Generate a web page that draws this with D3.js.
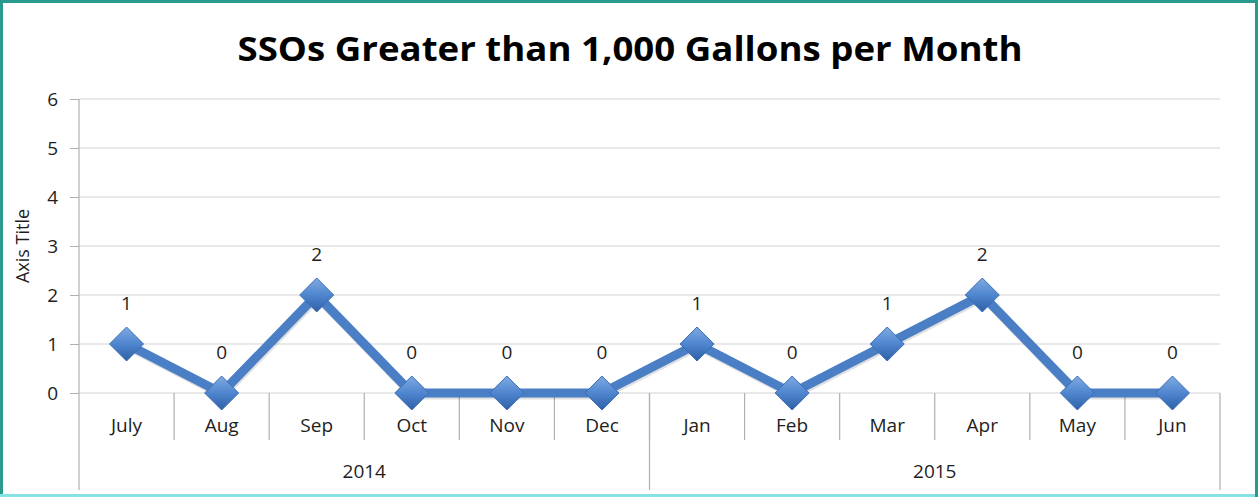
<!DOCTYPE html>
<html>
<head>
<meta charset="utf-8">
<script src="https://cdn.jsdelivr.net/npm/d3@7"></script>
<style>
  html, body { margin: 0; padding: 0; background: #fff; }
  svg text { font-family: "Open Sans", "Noto Sans", sans-serif; fill: #1e1e1e; }
</style>
</head>
<body>
<div id="chart"></div>
<script>
// --- data ---
const months = ["July", "Aug", "Sep", "Oct", "Nov", "Dec", "Jan", "Feb", "Mar", "Apr", "May", "Jun"];
const years = ["2014", "2015"];
const monthsPerYear = [6, 6];
const ssoCounts = [1, 0, 2, 0, 0, 0, 1, 0, 1, 2, 0, 0];
const yTicks = [0, 1, 2, 3, 4, 5, 6];

const width = 1258, height = 497;
const plot = { left: 79, right: 1220, top: 99, bottom: 393 };

const svg = d3.select("#chart").append("svg")
  .attr("width", width)
  .attr("height", height);

// gradient for the markers
const defs = svg.append("defs");
const grad = defs.append("linearGradient")
  .attr("id", "mk").attr("x1", 0).attr("y1", 0).attr("x2", 0).attr("y2", 1);
grad.append("stop").attr("offset", "0%").attr("stop-color", "#80aae2");
grad.append("stop").attr("offset", "50%").attr("stop-color", "#4f86cf");
grad.append("stop").attr("offset", "100%").attr("stop-color", "#2d60a6");

// frame
svg.append("rect")
  .attr("x", 1.5).attr("y", 1.5)
  .attr("width", width - 3).attr("height", height - 3)
  .attr("fill", "#fff")
  .attr("stroke", "#2a9a8e")
  .attr("stroke-width", 3);
svg.append("line")
  .attr("x1", 0).attr("x2", width - 3)
  .attr("y1", height - 1.5).attr("y2", height - 1.5)
  .attr("stroke", "#86e3e3").attr("stroke-width", 3);

// scales
const x = d3.scaleBand().domain(months).range([plot.left, plot.right]);
const y = d3.scaleLinear().domain([0, 6]).range([plot.bottom, plot.top]);

// title
svg.append("text")
  .attr("x", 630).attr("y", 61)
  .attr("text-anchor", "middle")
  .attr("font-size", 34)
  .attr("font-weight", "bold")
  .style("fill", "#000")
  .attr("textLength", 785)
  .attr("lengthAdjust", "spacingAndGlyphs")
  .text("SSOs Greater than 1,000 Gallons per Month");

// gridlines
svg.append("g")
  .selectAll("line")
  .data(yTicks)
  .join("line")
  .attr("x1", plot.left).attr("x2", plot.right)
  .attr("y1", d => y(d)).attr("y2", d => y(d))
  .attr("stroke", "#d4d4d4").attr("stroke-width", 1.2);

// y axis
const yAxis = svg.append("g")
  .attr("transform", `translate(${plot.left},0)`)
  .call(d3.axisLeft(y).tickValues(yTicks).tickSize(9).tickPadding(12).tickFormat(d3.format("d")));
yAxis.select(".domain").remove();
yAxis.selectAll(".tick line").attr("stroke", "#b0b0b0");
yAxis.selectAll(".tick text").attr("font-size", 19).style("font-family", "'Open Sans', sans-serif");

svg.append("line")
  .attr("x1", plot.left).attr("x2", plot.left)
  .attr("y1", plot.top).attr("y2", 490)
  .attr("stroke", "#b0b0b0").attr("stroke-width", 1.2);

// axis title
svg.append("text")
  .attr("transform", `translate(29,${(plot.top + plot.bottom) / 2}) rotate(-90)`)
  .attr("text-anchor", "middle")
  .attr("font-size", 18)
  .text("Axis Title");

// category axis: month separators
const bw = x.bandwidth();
svg.append("g")
  .selectAll("line")
  .data(months.slice(1))
  .join("line")
  .attr("x1", d => x(d)).attr("x2", d => x(d))
  .attr("y1", plot.bottom).attr("y2", 440)
  .attr("stroke", "#b0b0b0").attr("stroke-width", 1.2);

svg.append("g")
  .selectAll("text")
  .data(months)
  .join("text")
  .attr("x", d => x(d) + bw / 2)
  .attr("y", 432)
  .attr("text-anchor", "middle")
  .attr("font-size", 19)
  .text(d => d);

// year separators and labels
let start = 0;
const yearSpans = years.map((yr, i) => {
  const s = start; start += monthsPerYear[i];
  return { yr, x0: x(months[s]), x1: x(months[start - 1]) + bw };
});
svg.append("g")
  .selectAll("line")
  .data([yearSpans[0].x1, yearSpans[1].x1])
  .join("line")
  .attr("x1", d => d).attr("x2", d => d)
  .attr("y1", plot.bottom).attr("y2", 490)
  .attr("stroke", "#b0b0b0").attr("stroke-width", 1.2);

svg.append("g")
  .selectAll("text")
  .data(yearSpans)
  .join("text")
  .attr("x", d => (d.x0 + d.x1) / 2)
  .attr("y", 478)
  .attr("text-anchor", "middle")
  .attr("font-size", 19)
  .text(d => d.yr);

// line
const pts = months.map((m, i) => ({ m, v: ssoCounts[i] }));
const line = d3.line().x(d => x(d.m) + bw / 2).y(d => y(d.v));

svg.append("path")
  .datum(pts)
  .attr("d", line)
  .attr("fill", "none")
  .attr("stroke", "rgba(0,0,0,0.12)")
  .attr("stroke-width", 9)
  .attr("stroke-linejoin", "round")
  .attr("transform", "translate(1,2)");

svg.append("path")
  .datum(pts)
  .attr("d", line)
  .attr("fill", "none")
  .attr("stroke", "#4a7fc6")
  .attr("stroke-width", 9)
  .attr("stroke-linejoin", "round");

// markers
const r = 17;
svg.append("g")
  .selectAll("path")
  .data(pts)
  .join("path")
  .attr("transform", d => `translate(${x(d.m) + bw / 2},${y(d.v)})`)
  .attr("d", `M0,${-r}L${r},0L0,${r}L${-r},0Z`)
  .attr("fill", "url(#mk)")
  .attr("stroke", "#3a6db5")
  .attr("stroke-width", 1);

// data labels
svg.append("g")
  .selectAll("text")
  .data(pts)
  .join("text")
  .attr("x", d => x(d.m) + bw / 2)
  .attr("y", d => y(d.v) - 34)
  .attr("text-anchor", "middle")
  .attr("font-size", 19)
  .text(d => d.v);
</script>
</body>
</html>
